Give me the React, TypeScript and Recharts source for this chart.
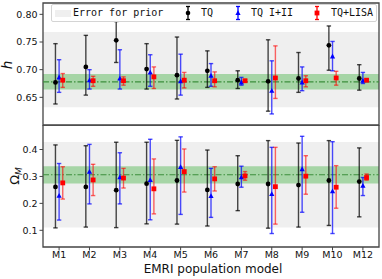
import React from 'react';
import { ScatterChart, Scatter, XAxis, YAxis, ErrorBar, ReferenceArea, ReferenceLine } from 'recharts';

const models = ['M1', 'M2', 'M3', 'M4', 'M5', 'M6', 'M7', 'M8', 'M9', 'M10', 'M12'];

// h panel
const hTQ = [0.677, 0.705, 0.753, 0.701, 0.690, 0.698, 0.681, 0.679, 0.684, 0.744, 0.684];
const hTQLo = [0.638, 0.654, 0.713, 0.665, 0.647, 0.668, 0.666, 0.625, 0.659, 0.699, 0.663];
const hTQHi = [0.747, 0.762, 0.787, 0.747, 0.759, 0.734, 0.698, 0.754, 0.731, 0.779, 0.709];
const hI2 = [0.686, 0.681, 0.684, 0.695, 0.679, 0.689, 0.677, 0.662, 0.677, 0.724, 0.680];
const hI2Lo = [0.659, 0.665, 0.665, 0.670, 0.654, 0.670, 0.672, 0.620, 0.662, 0.698, 0.675];
const hI2Hi = [0.718, 0.700, 0.736, 0.727, 0.728, 0.711, 0.686, 0.716, 0.705, 0.751, 0.695];
const hLISA = [0.681, 0.680, 0.680, 0.687, 0.681, 0.680, 0.680, 0.685, 0.680, 0.685, 0.681];
const hLISALo = [0.668, 0.670, 0.672, 0.666, 0.667, 0.669, 0.678, 0.648, 0.669, 0.672, 0.679];
const hLISAHi = [0.693, 0.688, 0.687, 0.705, 0.695, 0.696, 0.682, 0.743, 0.689, 0.697, 0.683];

// Omega_M panel
const oTQ = [0.261, 0.261, 0.249, 0.273, 0.285, 0.250, 0.272, 0.272, 0.268, 0.285, 0.281];
const oTQLo = [0.109, 0.112, 0.110, 0.124, 0.123, 0.116, 0.173, 0.108, 0.112, 0.118, 0.150];
const oTQHi = [0.417, 0.414, 0.427, 0.427, 0.434, 0.398, 0.377, 0.433, 0.424, 0.433, 0.406];
const oI2 = [0.228, 0.317, 0.297, 0.287, 0.335, 0.227, 0.297, 0.235, 0.327, 0.245, 0.265];
const oI2Lo = [0.138, 0.198, 0.198, 0.139, 0.159, 0.148, 0.260, 0.088, 0.167, 0.088, 0.229];
const oI2Hi = [0.348, 0.419, 0.388, 0.438, 0.447, 0.330, 0.338, 0.408, 0.449, 0.429, 0.296];
const oLISA = [0.276, 0.287, 0.294, 0.254, 0.318, 0.291, 0.302, 0.262, 0.301, 0.260, 0.296];
const oLISALo = [0.216, 0.229, 0.257, 0.161, 0.242, 0.246, 0.286, 0.123, 0.234, 0.182, 0.286];
const oLISAHi = [0.336, 0.345, 0.330, 0.365, 0.402, 0.336, 0.318, 0.408, 0.377, 0.340, 0.309];

// reference values
const hPrior = [0.632, 0.768];
const hBand = [0.664, 0.692];
const hTrue = 0.678;
const oPrior = [0.110, 0.428];
const oBand = [0.274, 0.338];
const oTrue = 0.306;

const hTicks = [0.6, 0.65, 0.7, 0.75, 0.8];
const oTicks = [0.1, 0.2, 0.3, 0.4];
const xTicks = models.map((_, i) => i + 1);

const X_DOMAIN: [number, number] = [0.47, 11.53];
const H_DOMAIN: [number, number] = [0.6, 0.8205];
const O_DOMAIN: [number, number] = [0.038, 0.491];

const build = (v: number[], lo: number[], hi: number[], off: number) =>
  models.map((m, i) => ({ x: i + 1 + off, y: v[i], err: [v[i] - lo[i], hi[i] - v[i]] }));

const FRAME = '#444';
const TICKFONT = { fontFamily: 'DejaVu Sans', fontSize: 9.5, fill: '#111' };

const Circle = (p: any) => <circle cx={p.cx} cy={p.cy} r={2.4} fill="#000" />;
const Tri = (p: any) => (
  <polygon points={`${p.cx},${p.cy - 2.8} ${p.cx - 2.6},${p.cy + 2} ${p.cx + 2.6},${p.cy + 2}`} fill="#0000ff" />
);
const Sq = (p: any) => <rect x={p.cx - 2.4} y={p.cy - 2.4} width={4.8} height={4.8} fill="#ff0000" />;

function Series(data: any[], color: string, opacity: number, shape: any, key: string) {
  return (
    <Scatter key={key} data={data} dataKey="y" shape={shape} isAnimationActive={false}>
      <ErrorBar dataKey="err" direction="y" width={2.2} stroke={color} strokeOpacity={opacity} strokeWidth={1.4} isAnimationActive={false} />
    </Scatter>
  );
}

function Panel(props: any) {
  const { height, margin, yDomain, yTicks, fmt, prior, band, truth, sets, showX, ylabel } = props;
  return (
    <ScatterChart width={382} height={height} margin={margin}>
      <XAxis
        type="number"
        dataKey="x"
        domain={X_DOMAIN}
        ticks={xTicks}
        allowDataOverflow
        hide={!showX}
        height={showX ? 32 : 0}
        axisLine={false}
        tickLine={{ stroke: FRAME, strokeWidth: 1 }}
        tickSize={3.5}
        tickMargin={1}
        tick={{ ...TICKFONT }}
        tickFormatter={(v: number) => models[v - 1]}
        label={showX ? { content: () => (
          <text x={213} y={273 - 125} textAnchor="middle" fontFamily="DejaVu Sans" fontSize={12} fill="#111">
            EMRI population model
          </text>
        ) } : undefined}
      />
      <YAxis
        type="number"
        dataKey="y"
        domain={yDomain}
        ticks={yTicks}
        allowDataOverflow
        width={43}
        axisLine={false}
        tickLine={{ stroke: FRAME, strokeWidth: 1 }}
        tickSize={3.5}
        tickMargin={2}
        tick={{ ...TICKFONT }}
        tickFormatter={fmt}
        label={{ content: ylabel }}
      />
      <ReferenceArea x1={X_DOMAIN[0]} x2={X_DOMAIN[1]} y1={prior[0]} y2={prior[1]} fill="#efefef" fillOpacity={1} stroke="none" />
      <ReferenceArea x1={X_DOMAIN[0]} x2={X_DOMAIN[1]} y1={band[0]} y2={band[1]} fill="#a6d5a6" fillOpacity={1} stroke="none" />
      <ReferenceLine y={truth} stroke="#3c8f3c" strokeWidth={1.1} strokeDasharray="6 2 1.5 2" />
      {sets}
      <ReferenceArea x1={X_DOMAIN[0]} x2={X_DOMAIN[1]} y1={yDomain[0]} y2={yDomain[1]} fill="none" stroke={FRAME} strokeWidth={1.3} />
    </ScatterChart>
  );
}

const hLabel = () => (
  <text x={11.5} y={65} transform="rotate(-90 11.5 65)" textAnchor="middle" fontFamily="DejaVu Sans" fontStyle="italic" fontSize={13.5} fill="#111">h</text>
);
const oLabel = () => (
  <text x={19} y={176 - 125} transform={`rotate(-90 19 ${176 - 125})`} textAnchor="middle" fontFamily="DejaVu Sans" fontSize={13} fill="#111">
    Ω<tspan fontSize={9} fontStyle="italic" dy={2.5}>M</tspan>
  </text>
);

const ErrIcon = ({ color, marker, x }: any) => (
  <svg style={{ position: 'absolute', left: x - 6, top: 5 }} width={12} height={17}>
    <line x1={6} y1={1.5} x2={6} y2={14.5} stroke={color} strokeWidth={1.3} />
    <line x1={4} y1={1.5} x2={8} y2={1.5} stroke={color} strokeWidth={1.3} />
    <line x1={4} y1={14.5} x2={8} y2={14.5} stroke={color} strokeWidth={1.3} />
    {marker === 'c' && <circle cx={6} cy={8} r={2.3} fill={color} />}
    {marker === 't' && <polygon points="6,5.2 3.4,10 8.6,10" fill={color} />}
    {marker === 's' && <rect x={3.6} y={5.6} width={4.8} height={4.8} fill={color} />}
  </svg>
);

const legText: React.CSSProperties = { position: 'absolute', top: 6.5, fontFamily: 'DejaVu Sans Mono', fontSize: 10, lineHeight: '12px', color: '#111', whiteSpace: 'pre' };

export default function App() {
  const topSets = [
    Series(build(hTQ, hTQLo, hTQHi, -0.12), '#000', 0.72, Circle, 'a'),
    Series(build(hI2, hI2Lo, hI2Hi, 0), '#0000ff', 0.7, Tri, 'b'),
    Series(build(hLISA, hLISALo, hLISAHi, 0.12), '#ff0000', 0.6, Sq, 'c'),
  ];
  const botSets = [
    Series(build(oTQ, oTQLo, oTQHi, -0.12), '#000', 0.72, Circle, 'a'),
    Series(build(oI2, oI2Lo, oI2Hi, 0), '#0000ff', 0.7, Tri, 'b'),
    Series(build(oLISA, oLISALo, oLISAHi, 0.12), '#ff0000', 0.6, Sq, 'c'),
  ];
  return (
    <div style={{ position: 'absolute', left: 0, top: 0, width: 382, height: 279, background: '#fff', overflow: 'hidden' }}>
      <div style={{ position: 'absolute', left: 0, top: 125 }}>
        <Panel height={154} margin={{ top: 0, right: 3, bottom: 0, left: 0 }} yDomain={O_DOMAIN} yTicks={oTicks}
          fmt={(v: number) => v.toFixed(1)} prior={oPrior} band={oBand} truth={oTrue} sets={botSets} showX ylabel={oLabel} />
      </div>
      <div style={{ position: 'absolute', left: 0, top: 0 }}>
        <Panel height={126} margin={{ top: 3, right: 3, bottom: 1, left: 0 }} yDomain={H_DOMAIN} yTicks={hTicks}
          fmt={(v: number) => v.toFixed(2)} prior={hPrior} band={hBand} truth={hTrue} sets={topSets} showX={false} ylabel={hLabel} />
      </div>
      <div style={{ position: 'absolute', left: 50.5, top: 3.5, width: 326, height: 18.5, boxSizing: 'border-box', border: '1px solid #d4d4d4', borderRadius: 2, background: 'rgba(255,255,255,0.85)' }} />
      <div style={{ position: 'absolute', left: 55, top: 9.5, width: 16, height: 7.5, background: '#efefef' }} />
      <div style={{ ...legText, left: 73 }}>Error for prior</div>
      <ErrIcon color="#000" marker="c" x={187.5} />
      <div style={{ ...legText, left: 201 }}>TQ</div>
      <ErrIcon color="#0000ff" marker="t" x={237.7} />
      <div style={{ ...legText, left: 251 }}>TQ I+II</div>
      <ErrIcon color="#ff0000" marker="s" x={317.3} />
      <div style={{ ...legText, left: 331 }}>TQ+LISA</div>
    </div>
  );
}
